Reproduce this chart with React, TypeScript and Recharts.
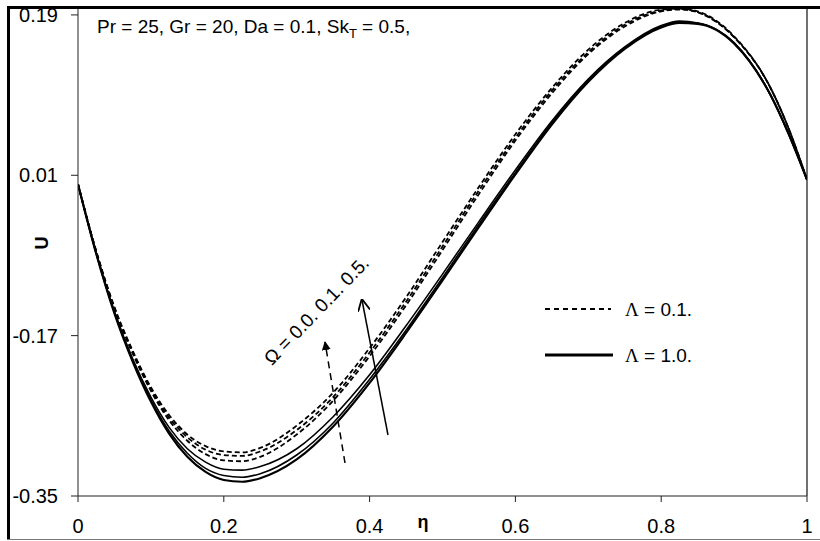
import React from "react";
import { LineChart, Line, XAxis, YAxis, ReferenceLine } from "recharts";

const eta = [0, 0.025, 0.05, 0.075, 0.1, 0.125, 0.15, 0.175, 0.2, 0.225, 0.25, 0.3, 0.35, 0.4, 0.45, 0.5, 0.55, 0.6, 0.65, 0.7, 0.75, 0.8, 0.825, 0.85, 0.9, 0.95, 0.975, 1.0];

// Lambda = 0.1 (dashed)
const dashOmega0 = [0, -0.076, -0.140, -0.190, -0.232, -0.265, -0.288, -0.303, -0.310, -0.311, -0.306, -0.281, -0.243, -0.193, -0.136, -0.074, -0.011, 0.049, 0.102, 0.146, 0.177, 0.194, 0.196, 0.193, 0.165, 0.108, 0.062, 0.005];
const dashOmega01 = [0, -0.076, -0.139, -0.188, -0.230, -0.262, -0.284, -0.298, -0.304, -0.305, -0.300, -0.276, -0.239, -0.189, -0.132, -0.070, -0.007, 0.052, 0.105, 0.148, 0.179, 0.195, 0.197, 0.193, 0.165, 0.108, 0.062, 0.005];
const dashOmega05 = [0, -0.075, -0.138, -0.187, -0.228, -0.259, -0.281, -0.294, -0.300, -0.301, -0.296, -0.271, -0.234, -0.184, -0.127, -0.065, -0.003, 0.056, 0.108, 0.151, 0.181, 0.196, 0.197, 0.194, 0.166, 0.108, 0.062, 0.005];

// Lambda = 1.0 (solid)
const solidOmega0 = [0, -0.078, -0.145, -0.199, -0.244, -0.280, -0.306, -0.323, -0.332, -0.334, -0.330, -0.309, -0.272, -0.223, -0.167, -0.108, -0.048, 0.011, 0.067, 0.115, 0.152, 0.176, 0.181, 0.180, 0.158, 0.100, 0.056, 0.005];
const solidOmega01 = [0, -0.078, -0.144, -0.198, -0.242, -0.277, -0.302, -0.319, -0.327, -0.329, -0.325, -0.304, -0.268, -0.219, -0.164, -0.105, -0.045, 0.013, 0.069, 0.117, 0.153, 0.177, 0.182, 0.181, 0.158, 0.100, 0.056, 0.005];
const solidOmega05 = [0, -0.077, -0.143, -0.196, -0.239, -0.273, -0.297, -0.312, -0.320, -0.321, -0.317, -0.297, -0.261, -0.214, -0.159, -0.101, -0.042, 0.016, 0.071, 0.118, 0.154, 0.178, 0.183, 0.181, 0.159, 0.100, 0.056, 0.005];

const xTicks = [0, 0.2, 0.4, 0.6, 0.8, 1];
const yTicks = [-0.35, -0.17, 0.01, 0.19];

const data = eta.map((e, i) => ({
  eta: e,
  d0: dashOmega0[i],
  d1: dashOmega01[i],
  d5: dashOmega05[i],
  s0: solidOmega0[i],
  s1: solidOmega01[i],
  s5: solidOmega05[i],
}));

const FONT = "'Liberation Sans', Arial, sans-serif";

export default function App() {
  return (
    <div style={{ position: "absolute", left: 0, top: 0, width: 820, height: 541, background: "#fff", fontFamily: FONT }}>
      <LineChart
        width={820}
        height={541}
        data={data}
        margin={{ top: 6, right: 13, bottom: 0, left: 0 }}
        style={{ fontFamily: FONT }}
      >
        <XAxis
          dataKey="eta"
          type="number"
          domain={[0, 1]}
          ticks={xTicks}
          height={45}
          stroke="#222"
          tickSize={6}
          tickMargin={17}
          tick={{ fill: "#000", fontSize: 20 }}
          allowDataOverflow
        />
        <YAxis
          type="number"
          domain={[-0.35, 0.2]}
          ticks={yTicks}
          width={78}
          stroke="#222"
          tickSize={7}
          tickMargin={13}
          tick={{ fill: "#000", fontSize: 20 }}
          allowDataOverflow
        />
        <ReferenceLine x={1} stroke="#111" strokeWidth={1.2} />
        <Line dataKey="d0" type="monotone" stroke="#000" strokeWidth={1.8} strokeDasharray="5 3" dot={false} isAnimationActive={false} />
        <Line dataKey="d1" type="monotone" stroke="#000" strokeWidth={1.8} strokeDasharray="5 3" dot={false} isAnimationActive={false} />
        <Line dataKey="d5" type="monotone" stroke="#000" strokeWidth={1.8} strokeDasharray="5 3" dot={false} isAnimationActive={false} />
        <Line dataKey="s0" type="monotone" stroke="#000" strokeWidth={2.2} dot={false} isAnimationActive={false} />
        <Line dataKey="s1" type="monotone" stroke="#000" strokeWidth={1.6} dot={false} isAnimationActive={false} />
        <Line dataKey="s5" type="monotone" stroke="#000" strokeWidth={1.6} dot={false} isAnimationActive={false} />
      </LineChart>
      <svg
        width={820}
        height={541}
        style={{ position: "absolute", left: 0, top: 0, pointerEvents: "none", fontFamily: FONT }}
      >
        <defs>
          <marker id="headFilled" viewBox="0 0 10 10" refX="9" refY="5" markerWidth="9" markerHeight="9" orient="auto" markerUnits="userSpaceOnUse">
            <path d="M0,0 L10,5 L0,10 z" fill="#000" />
          </marker>
          <marker id="headOpen" viewBox="0 0 10 10" refX="9" refY="5" markerWidth="12" markerHeight="12" orient="auto" markerUnits="userSpaceOnUse">
            <path d="M0,0 L10,5 L0,10" fill="none" stroke="#000" strokeWidth="1.5" />
          </marker>
        </defs>
        {/* outer frame */}
        <rect x={7} y={6} width={3} height={534} fill="#000" />
        <rect x={7} y={6} width={813} height={3} fill="#000" />
        <line x1={7} y1={539.5} x2={820} y2={539.5} stroke="#777" strokeWidth={1} />
        {/* annotation */}
        <text x={97} y={33} fontSize={19} fill="#000">
          Pr = 25, Gr = 20, Da = 0.1, Sk<tspan fontSize={13} dy={5}>T</tspan>
          <tspan dy={-5}> = 0.5,</tspan>
        </text>
        {/* axis labels */}
        <text x={42} y={243} fontSize={18} fontWeight="bold" textAnchor="middle" dominantBaseline="central" transform="rotate(-90 42 243)" fill="#000">U</text>
        <text x={423} y={522} fontSize={18} fontWeight="bold" textAnchor="middle" dominantBaseline="central" fill="#000">η</text>
        {/* legend */}
        <line x1={545} y1={309} x2={611} y2={309} stroke="#000" strokeWidth={2} strokeDasharray="5 4" />
        <text x={625} y={309} fontSize={19} dominantBaseline="central" fill="#000">
          <tspan fontFamily="'Liberation Serif', serif">Λ</tspan> = 0.1.
        </text>
        <line x1={545} y1={355} x2={613} y2={355} stroke="#000" strokeWidth={3} />
        <text x={625} y={355} fontSize={19} dominantBaseline="central" fill="#000">
          <tspan fontFamily="'Liberation Serif', serif">Λ</tspan> = 1.0.
        </text>
        {/* omega label */}
        <text x={272} y={366} fontSize={19} fill="#000" transform="rotate(-46 272 366)">
          Ω = 0.0. 0.1. 0.5.
        </text>
        {/* arrows */}
        <line x1={345} y1={463} x2={325} y2={342} stroke="#000" strokeWidth={1.5} strokeDasharray="7 5" markerEnd="url(#headFilled)" />
        <line x1={388} y1={435} x2={362} y2={300} stroke="#000" strokeWidth={1.5} markerEnd="url(#headOpen)" />
      </svg>
    </div>
  );
}
